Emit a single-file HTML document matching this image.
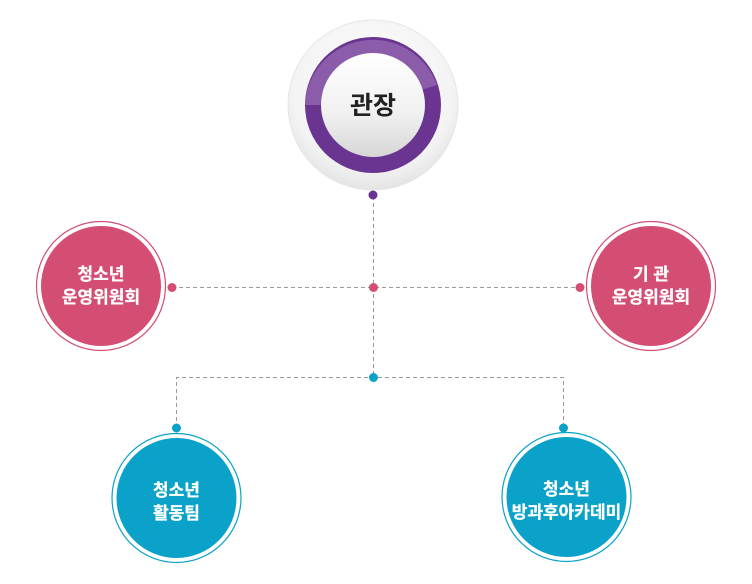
<!DOCTYPE html>
<html><head><meta charset="utf-8"><style>
html,body{margin:0;padding:0;background:#fff;width:752px;height:584px;overflow:hidden}
svg{display:block}
text{font-family:"Liberation Sans","Noto Sans CJK KR",sans-serif;text-anchor:middle}
.w{stroke:#fff;stroke-width:0.3}
</style></head><body>
<svg width="752" height="584" viewBox="0 0 752 584">
<defs>
<radialGradient id="outer" cx="50%" cy="40%" r="60%">
<stop offset="0" stop-color="#ffffff"/><stop offset="0.8" stop-color="#f3f3f3"/><stop offset="1" stop-color="#e4e4e4"/>
</radialGradient>
<linearGradient id="inner" x1="0" y1="0" x2="0" y2="1">
<stop offset="0" stop-color="#ffffff"/><stop offset="0.6" stop-color="#f0f0f0"/><stop offset="1" stop-color="#d6d6d6"/>
</linearGradient>
</defs>
<g stroke="#999" stroke-width="1" stroke-dasharray="4,3" fill="none">
<line x1="373.5" y1="196" x2="373.5" y2="378"/>
<line x1="172" y1="287.5" x2="580" y2="287.5"/>
<polyline points="176.5,428 176.5,377.5 563.5,377.5 563.5,428"/>
</g>
<circle cx="373" cy="105" r="85" fill="url(#outer)" stroke="#e6e6e6"/>
<circle cx="373" cy="105" r="68" fill="#6a3590"/>
<path d="M373 105 L305 105 A68 68 0 0 1 437 85 Z" fill="#8a5ca9"/>
<circle cx="373" cy="105" r="52" fill="url(#inner)"/>
<text x="373" y="114" font-size="25" font-weight="bold" fill="#222">관장</text>
<circle cx="373" cy="195" r="4.5" fill="#6a3590"/>
<circle cx="101" cy="286" r="64.5" fill="#fff" stroke="#d44d72" stroke-width="1.2"/>
<circle cx="101" cy="286" r="60" fill="#d44d72"/>
<text class="w" x="101" y="280" font-size="17" font-weight="bold" fill="#fff">청소년</text>
<text class="w" x="101" y="303" font-size="17" font-weight="bold" fill="#fff">운영위원회</text>
<circle cx="651" cy="286" r="64.5" fill="#fff" stroke="#d44d72" stroke-width="1.2"/>
<circle cx="651" cy="286" r="60" fill="#d44d72"/>
<text class="w" x="651" y="280" font-size="17" font-weight="bold" fill="#fff">기 관</text>
<text class="w" x="651" y="303" font-size="17" font-weight="bold" fill="#fff">운영위원회</text>
<circle cx="172" cy="287.5" r="4.5" fill="#d44d72"/>
<circle cx="373.5" cy="287.5" r="4.5" fill="#d44d72"/>
<circle cx="580" cy="287.5" r="4.5" fill="#d44d72"/>
<circle cx="176.5" cy="498" r="64.5" fill="#fff" stroke="#0aa2c8" stroke-width="1.2"/>
<circle cx="176.5" cy="498" r="60" fill="#0aa2c8"/>
<text class="w" x="176.5" y="496" font-size="17" font-weight="bold" fill="#fff">청소년</text>
<text class="w" x="176.5" y="519" font-size="17" font-weight="bold" fill="#fff">활동팀</text>
<circle cx="566.5" cy="497" r="64.5" fill="#fff" stroke="#0aa2c8" stroke-width="1.2"/>
<circle cx="566.5" cy="497" r="60" fill="#0aa2c8"/>
<text class="w" x="566.5" y="495" font-size="17" font-weight="bold" fill="#fff">청소년</text>
<text class="w" x="566.5" y="518" font-size="17" font-weight="bold" fill="#fff">방과후아카데미</text>
<circle cx="373.5" cy="377.5" r="4.5" fill="#0aa2c8"/>
<circle cx="176.5" cy="428" r="4.5" fill="#0aa2c8"/>
<circle cx="563.5" cy="428" r="4.5" fill="#0aa2c8"/>
</svg>
</body></html>
